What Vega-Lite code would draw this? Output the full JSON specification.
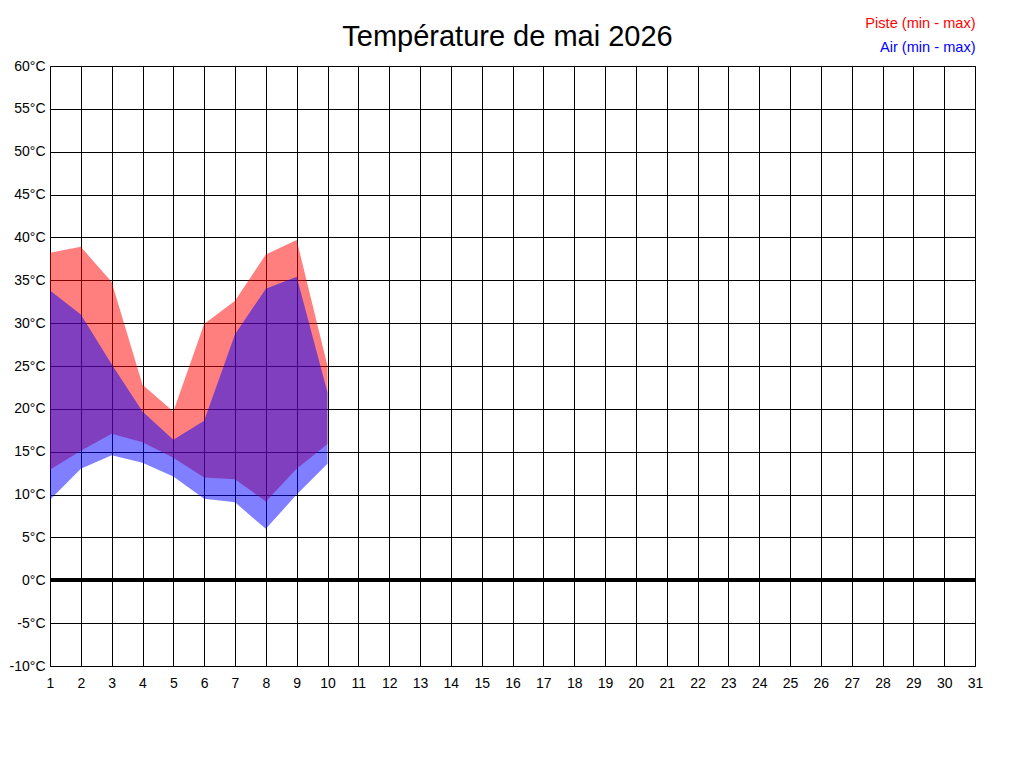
{
  "$schema": "https://vega.github.io/schema/vega-lite/v6.json",
  "width": 925,
  "height": 600,
  "autosize": {"type": "none"},
  "padding": {"left": 50, "top": 66, "right": 49, "bottom": 102},
  "background": "white",
  "title": {
    "text": "Température de mai 2026",
    "font": "Liberation Sans",
    "fontSize": 29,
    "fontWeight": "normal",
    "color": "black",
    "anchor": "middle",
    "offset": -35,
    "dx": -5
  },
  "config": {
    "view": {"stroke": "black", "strokeWidth": 1},
    "axis": {
      "labelFont": "Liberation Sans",
      "labelFontSize": 14,
      "labelColor": "black",
      "gridColor": "black",
      "gridOpacity": 1,
      "gridWidth": 1,
      "domain": false,
      "ticks": false,
      "title": null
    }
  },
  "data": {
    "values": [
      {"day": 1, "serie": "Piste (min - max)", "min": 12.9, "max": 38.2},
      {"day": 2, "serie": "Piste (min - max)", "min": 15.1, "max": 38.9},
      {"day": 3, "serie": "Piste (min - max)", "min": 17.1, "max": 34.8},
      {"day": 4, "serie": "Piste (min - max)", "min": 16.1, "max": 22.8},
      {"day": 5, "serie": "Piste (min - max)", "min": 14.3, "max": 19.7},
      {"day": 6, "serie": "Piste (min - max)", "min": 12.0, "max": 29.9},
      {"day": 7, "serie": "Piste (min - max)", "min": 11.8, "max": 32.6},
      {"day": 8, "serie": "Piste (min - max)", "min": 9.2, "max": 38.0},
      {"day": 9, "serie": "Piste (min - max)", "min": 13.0, "max": 39.7},
      {"day": 10, "serie": "Piste (min - max)", "min": 15.9, "max": 25.0},
      {"day": 1, "serie": "Air (min - max)", "min": 9.4, "max": 33.8},
      {"day": 2, "serie": "Air (min - max)", "min": 13.0, "max": 31.0},
      {"day": 3, "serie": "Air (min - max)", "min": 14.6, "max": 25.2},
      {"day": 4, "serie": "Air (min - max)", "min": 13.7, "max": 19.7},
      {"day": 5, "serie": "Air (min - max)", "min": 12.1, "max": 16.4},
      {"day": 6, "serie": "Air (min - max)", "min": 9.5, "max": 18.6},
      {"day": 7, "serie": "Air (min - max)", "min": 9.1, "max": 28.7},
      {"day": 8, "serie": "Air (min - max)", "min": 6.0, "max": 34.0},
      {"day": 9, "serie": "Air (min - max)", "min": 10.0, "max": 35.4},
      {"day": 10, "serie": "Air (min - max)", "min": 13.6, "max": 21.9}
    ]
  },
  "encoding": {
    "x": {
      "field": "day",
      "type": "quantitative",
      "scale": {"domain": [1, 31], "nice": false, "zero": false},
      "axis": {
        "values": [1,2,3,4,5,6,7,8,9,10,11,12,13,14,15,16,17,18,19,20,21,22,23,24,25,26,27,28,29,30,31],
        "labelPadding": 10,
        "grid": true,
        "labelFlush": false,
        "labelOverlap": false
      }
    }
  },
  "layer": [
    {
      "transform": [{"filter": "datum.serie == 'Piste (min - max)'"}],
      "mark": {"type": "area", "opacity": 0.5, "interpolate": "linear"},
      "encoding": {
        "y": {
          "field": "max",
          "type": "quantitative",
          "scale": {"domain": [-10, 60], "nice": false},
          "axis": {
            "values": [-10,-5,0,5,10,15,20,25,30,35,40,45,50,55,60],
            "labelExpr": "datum.value + '°C'",
            "labelPadding": 5,
            "grid": true,
            "labelFlush": false,
            "labelOverlap": false
          }
        },
        "y2": {"field": "min"},
        "color": {
          "field": "serie",
          "type": "nominal",
          "scale": {"domain": ["Piste (min - max)", "Air (min - max)"], "range": ["#ff0000", "#0000ff"]},
          "legend": {
            "title": null,
            "orient": "none",
            "legendX": 911,
            "legendY": -49,
            "padding": 0,
            "symbolSize": 0,
            "symbolStrokeWidth": 0,
            "symbolOpacity": 0,
            "labelOffset": 0,
            "labelAlign": "right",
            "labelBaseline": "middle",
            "labelFont": "Liberation Sans",
            "labelFontSize": 14.6,
            "rowPadding": 8.5,
            "labelLimit": 300,
            "labelColor": {"expr": "datum.label == 'Piste (min - max)' ? '#ff0000' : '#0000ff'"}
          }
        }
      }
    },
    {
      "transform": [{"filter": "datum.serie == 'Air (min - max)'"}],
      "mark": {"type": "area", "opacity": 0.5, "interpolate": "linear"},
      "encoding": {
        "y": {"field": "max", "type": "quantitative"},
        "y2": {"field": "min"},
        "color": {"field": "serie", "type": "nominal"}
      }
    },
    {
      "mark": {"type": "rule", "color": "black", "strokeWidth": 3},
      "encoding": {"y": {"datum": 0, "type": "quantitative"}, "x": {"datum": 1}, "x2": {"datum": 31}}
    }
  ]
}
